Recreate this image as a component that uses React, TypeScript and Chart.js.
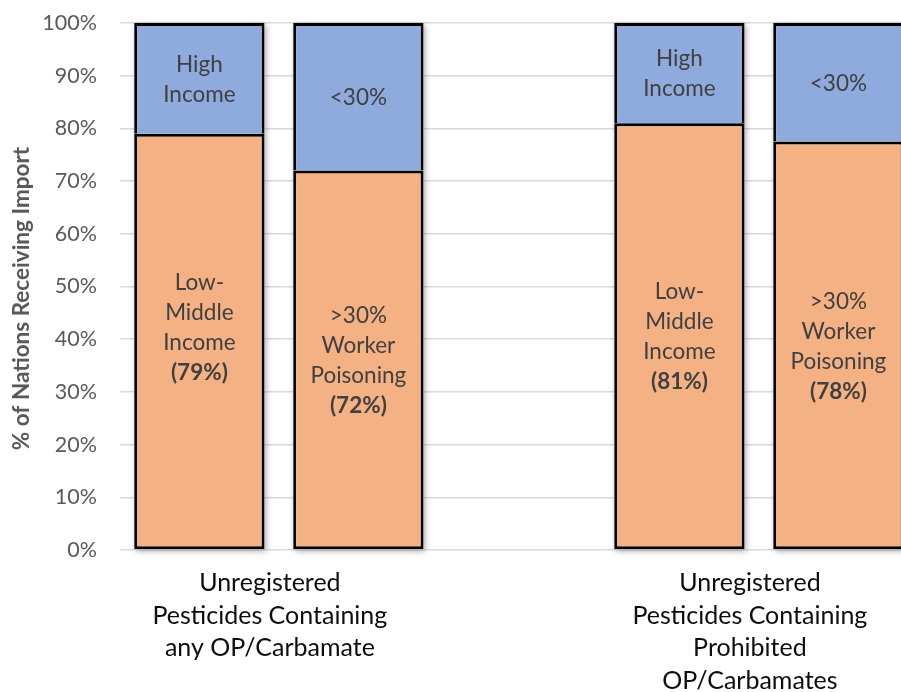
import React, { useEffect, useRef } from "react";
import { Chart, registerables } from "chart.js";

Chart.register(...registerables);

// ---------- data ----------
const categories: string[][] = [
  ["Unregistered", "Pesticides Containing", "any OP/Carbamate"],
  ["Unregistered", "Pesticides Containing", "Prohibited", "OP/Carbamates"],
];
const categoryPositions = [1, 2];

const lowMiddleIncome = [79, 81];
const highIncome = [21, 19];
const workerPoisoningOver30 = [72, 77.5];
const workerPoisoningUnder30 = [28, 22.5];

const lowMiddleLabels = [
  ["Low-", "Middle", "Income", "(79%)", ""],
  ["Low-", "Middle", "Income", "(81%)"],
];
const highLabels = [
  ["High", "Income"],
  ["High", "Income"],
];
const over30Labels = [
  [">30%", "Worker", "Poisoning", "(72%)"],
  [">30%", "Worker", "Poisoning", "(78%)"],
];
const under30Labels = [["<30%"], ["<30%"]];

const yAxisTitle = "% of Nations Receiving Import";
const yMin = 0;
const yMax = 100;
const yStep = 10;

// ---------- styles ----------
const ORANGE = "#F4B183";
const BLUE = "#8FAADC";
const FONT = "Lato, 'Open Sans', sans-serif";

const CANVAS_W = 893;
const CANVAS_H = 684;

const datasetLabels = [lowMiddleLabels, highLabels, over30Labels, under30Labels];

const toPoints = (vals: number[]) =>
  vals.map((v, i) => ({ x: categoryPositions[i], y: v }));

const barShadowPlugin = {
  id: "barShadow",
  beforeDatasetsDraw(chart: any) {
    const ctx = chart.ctx as CanvasRenderingContext2D;
    ctx.save();
    ctx.shadowColor = "rgba(0,0,0,0.35)";
    ctx.shadowBlur = 6;
    ctx.shadowOffsetX = 1.5;
    ctx.shadowOffsetY = 1.5;
    ctx.fillStyle = "#ffffff";
    chart.data.datasets.forEach((_ds: any, i: number) => {
      const meta = chart.getDatasetMeta(i);
      meta.data.forEach((el: any) => {
        const { x, y, base, width } = el.getProps(["x", "y", "base", "width"], true);
        const top = Math.min(y, base);
        ctx.fillRect(x - width / 2, top, width, Math.abs(base - y));
      });
    });
    ctx.restore();
  },
};

const barTextPlugin = {
  id: "barText",
  afterDatasetsDraw(chart: any) {
    const ctx = chart.ctx as CanvasRenderingContext2D;
    ctx.save();
    ctx.fillStyle = "#404040";
    ctx.textAlign = "center";
    ctx.textBaseline = "middle";
    const lh = 30;
    chart.data.datasets.forEach((_ds: any, i: number) => {
      const meta = chart.getDatasetMeta(i);
      const labels = datasetLabels[i];
      meta.data.forEach((el: any, j: number) => {
        const lines = labels[j];
        if (!lines) return;
        const { x, y, base } = el.getProps(["x", "y", "base"], true);
        const cy = (y + base) / 2;
        const start = cy - ((lines.length - 1) * lh) / 2 + 1;
        lines.forEach((line: string, k: number) => {
          ctx.font = `${line.startsWith("(") ? "bold " : ""}22.5px ${FONT}`;
          ctx.fillText(line, x, start + k * lh);
        });
      });
    });
    ctx.restore();
  },
};

const yTitlePlugin = {
  id: "yTitle",
  afterDraw(chart: any) {
    const ctx = chart.ctx as CanvasRenderingContext2D;
    const area = chart.chartArea;
    ctx.save();
    ctx.translate(14, (area.top + area.bottom) / 2 + 12);
    ctx.rotate(-Math.PI / 2);
    ctx.font = `bold 22.5px ${FONT}`;
    ctx.fillStyle = "#595959";
    ctx.textAlign = "center";
    ctx.textBaseline = "middle";
    ctx.fillText(yAxisTitle, 0, 0);
    ctx.restore();
  },
};

export default function App() {
  const canvasRef = useRef<HTMLCanvasElement | null>(null);

  useEffect(() => {
    if (!canvasRef.current) return;
    const chart = new Chart(canvasRef.current, {
      type: "bar",
      data: {
        datasets: [
          {
            label: "Low-Middle Income",
            data: toPoints(lowMiddleIncome),
            backgroundColor: ORANGE,
            borderColor: "#000000",
            borderWidth: 3,
            borderSkipped: false,
            stack: "income",
          },
          {
            label: "High Income",
            data: toPoints(highIncome),
            backgroundColor: BLUE,
            borderColor: "#000000",
            borderWidth: 3,
            borderSkipped: "start",
            stack: "income",
          },
          {
            label: ">30% Worker Poisoning",
            data: toPoints(workerPoisoningOver30),
            backgroundColor: ORANGE,
            borderColor: "#000000",
            borderWidth: 3,
            borderSkipped: false,
            stack: "poison",
          },
          {
            label: "<30%",
            data: toPoints(workerPoisoningUnder30),
            backgroundColor: BLUE,
            borderColor: "#000000",
            borderWidth: 3,
            borderSkipped: "start",
            stack: "poison",
          },
        ] as any,
      },
      options: {
        responsive: false,
        animation: false,
        events: [],
        categoryPercentage: 0.6625,
        barPercentage: 0.82,
        layout: { padding: { top: 15, left: 0, right: 0, bottom: 0 } },
        plugins: {
          legend: { display: false },
          tooltip: { enabled: false },
          title: { display: false },
        },
        scales: {
          x: {
            type: "linear",
            stacked: true,
            offset: false,
            bounds: "data",
            min: 0.669,
            max: 2.296,
            grid: { display: false, drawTicks: false, offset: false },
            border: { display: false },
            afterBuildTicks: (scale: any) => {
              scale.ticks = categoryPositions.map((v) => ({ value: v }));
            },
            afterFit: (scale: any) => {
              scale.height = 142;
            },
            ticks: {
              autoSkip: false,
              maxRotation: 0,
              minRotation: 0,
              padding: 17,
              labelOffset: -9,
              color: "#0D0D0D",
              font: { family: FONT, size: 25, lineHeight: 1.3 },
              callback: (_v: any, i: number) => categories[i],
            },
          },
          y: {
            type: "linear",
            stacked: true,
            min: yMin,
            max: yMax,
            grid: {
              color: "#D9D9D9",
              lineWidth: 1.5,
              drawTicks: true,
              tickLength: 23,
              tickColor: "rgba(0,0,0,0)",
            },
            border: { display: false },
            afterFit: (scale: any) => {
              scale.width = 112;
            },
            ticks: {
              stepSize: yStep,
              padding: 0,
              color: "#595959",
              font: { family: FONT, size: 21.5 },
              callback: (v: any) => `${v}%`,
            },
          },
        },
      } as any,
      plugins: [barShadowPlugin, barTextPlugin, yTitlePlugin],
    });
    return () => chart.destroy();
  }, []);

  return (
    <div
      style={{
        position: "fixed",
        left: 8,
        top: 8,
        width: CANVAS_W,
        height: CANVAS_H,
        overflow: "hidden",
        background: "#ffffff",
      }}
    >
      <canvas
        ref={canvasRef}
        width={CANVAS_W}
        height={CANVAS_H}
        style={{ display: "block", width: CANVAS_W, height: CANVAS_H }}
      />
    </div>
  );
}
